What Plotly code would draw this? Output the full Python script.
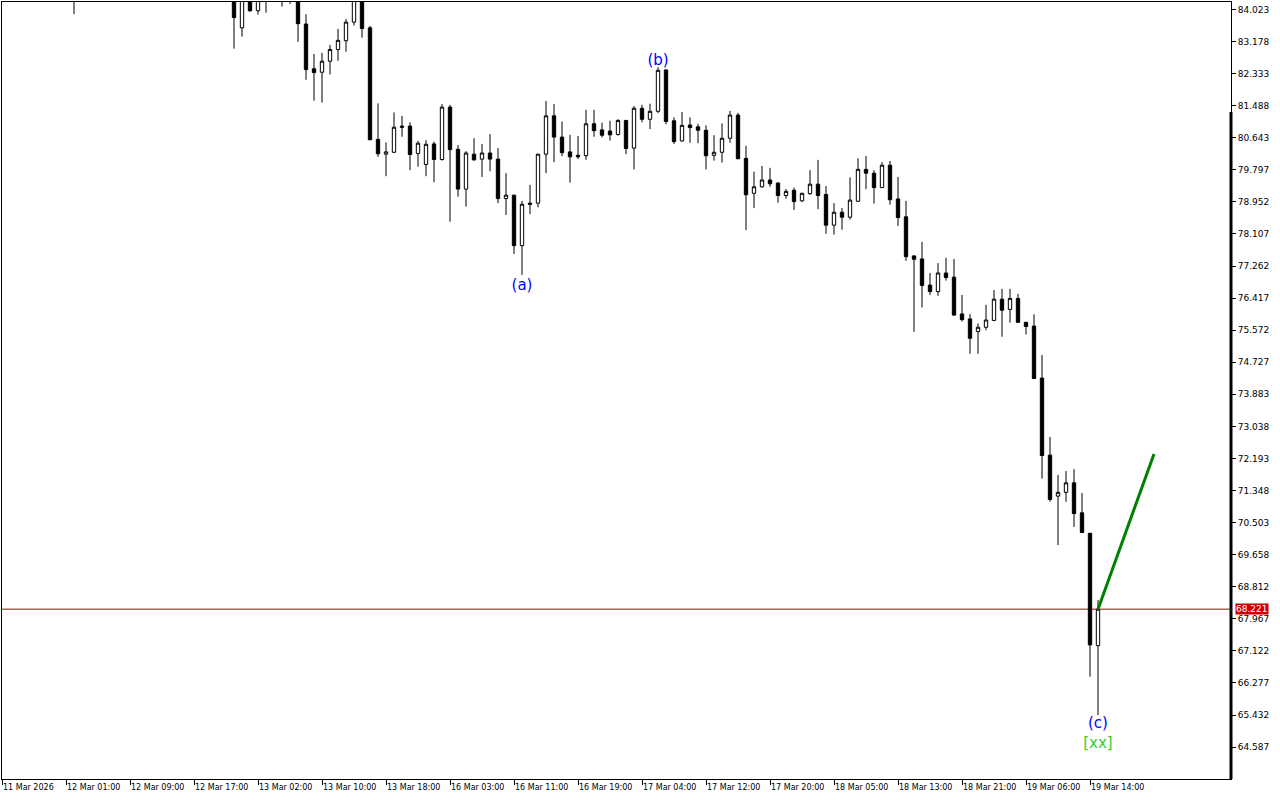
import plotly.graph_objects as go

# ---- data (hourly bars, index = bar position on the time axis) ----
bar_index = [9, 29, 30, 31, 32, 33, 35, 36, 37, 38, 39, 40, 41, 42, 43, 44, 45, 46, 47, 48,
             49, 50, 51, 52, 53, 54, 55, 56, 57, 58, 59, 60, 61, 62, 63, 64, 65, 66, 67, 68,
             69, 70, 71, 72, 73, 74, 75, 76, 77, 78, 79, 80, 81, 82, 83, 84, 85, 86, 87, 88,
             89, 90, 91, 92, 93, 94, 95, 96, 97, 98, 99, 100, 101, 102, 103, 104, 105, 106, 107, 108,
             109, 110, 111, 112, 113, 114, 115, 116, 117, 118, 119, 120, 121, 122, 123, 124, 125, 126, 127, 128,
             129, 130, 131, 132, 133, 134, 135, 136, 137]

opens = [84.50, 84.40, 83.54, 84.30, 83.99, 84.35, 84.50, 84.60, 84.45, 83.64, 82.46, 82.37, 82.66, 82.97, 83.20, 83.69, 84.35, 83.54, 80.60, 80.21,
         80.26, 80.95, 80.95, 80.23, 79.94, 80.48, 80.07, 81.45, 80.34, 79.29, 80.21, 80.08, 80.24, 80.08, 79.04, 79.13, 77.80, 78.92, 78.92, 80.21,
         81.22, 80.66, 80.27, 80.18, 80.17, 81.01, 80.85, 80.82, 80.73, 81.10, 80.37, 81.42, 81.13, 81.34, 82.43, 81.09, 80.56, 80.98, 80.93, 80.84,
         80.18, 80.26, 80.63, 81.24, 80.10, 79.18, 79.35, 79.53, 79.45, 79.12, 79.26, 78.98, 79.17, 79.42, 79.15, 78.34, 78.68, 78.55, 78.97, 79.81,
         79.71, 79.33, 79.92, 79.03, 78.56, 77.53, 77.45, 76.76, 76.59, 77.08, 76.97, 76.00, 75.87, 75.54, 75.65, 75.83, 76.39, 76.12, 76.41, 75.78,
         75.68, 74.31, 72.28, 71.20, 71.30, 71.55, 70.76, 70.22, 67.26]

highs = [84.70, 84.55, 84.45, 84.40, 84.40, 84.60, 84.70, 84.80, 84.60, 83.90, 82.85, 82.88, 83.09, 83.51, 83.77, 84.45, 84.45, 83.59, 81.55, 80.52,
         81.31, 81.22, 81.05, 80.56, 80.58, 80.54, 81.53, 81.51, 80.45, 80.29, 80.63, 80.48, 80.74, 80.37, 79.71, 79.14, 78.98, 79.40, 80.22, 81.61,
         81.53, 81.07, 80.72, 80.69, 81.38, 81.38, 81.04, 81.09, 81.13, 81.11, 81.48, 81.51, 81.54, 82.50, 82.44, 81.18, 81.32, 81.18, 81.01, 80.97,
         80.71, 81.02, 81.35, 81.30, 80.43, 79.75, 79.90, 79.85, 79.47, 79.29, 79.33, 79.19, 79.79, 80.06, 79.37, 78.92, 78.79, 79.60, 80.10, 80.16,
         79.79, 80.00, 80.03, 79.61, 78.98, 77.54, 77.90, 77.08, 77.34, 77.48, 77.45, 76.50, 76.00, 75.75, 76.24, 76.63, 76.66, 76.66, 76.53, 75.79,
         75.99, 74.92, 72.76, 71.76, 71.86, 71.91, 71.28, 70.23, 68.46]

lows = [83.90, 82.99, 83.31, 83.96, 83.89, 83.94, 84.10, 84.17, 83.17, 82.17, 81.62, 81.57, 82.31, 82.67, 82.91, 83.60, 83.28, 80.58, 80.14, 79.63,
        80.24, 80.67, 79.79, 79.88, 79.63, 79.47, 80.04, 78.43, 79.09, 78.83, 80.04, 79.61, 79.76, 78.92, 78.61, 77.58, 77.03, 78.63, 78.81, 79.71,
        80.00, 80.16, 79.46, 80.08, 80.06, 80.67, 80.65, 80.57, 80.70, 80.21, 79.81, 81.05, 80.87, 81.29, 81.00, 80.48, 80.54, 80.51, 80.50, 79.81,
        80.04, 79.99, 80.51, 80.08, 78.21, 78.79, 79.33, 79.35, 78.93, 79.04, 78.74, 78.95, 79.14, 78.76, 78.11, 78.09, 78.22, 78.49, 78.96, 79.29,
        78.91, 79.32, 78.88, 78.32, 77.40, 75.53, 76.17, 76.50, 76.48, 76.88, 75.95, 75.80, 74.95, 74.95, 75.57, 75.81, 75.40, 75.77, 75.77, 75.46,
        74.29, 71.66, 71.05, 69.91, 71.05, 70.39, 70.23, 66.44, 65.43]

closes = [84.60, 83.81, 84.35, 83.99, 84.30, 84.45, 84.40, 84.50, 83.65, 82.44, 82.36, 82.66, 82.97, 83.21, 83.69, 84.35, 83.52, 80.59, 80.22, 80.27,
          80.92, 80.92, 80.20, 80.50, 80.47, 80.07, 81.45, 80.33, 79.29, 80.24, 80.06, 80.24, 80.08, 79.04, 79.13, 77.80, 78.89, 78.89, 80.21, 81.22,
          80.66, 80.25, 80.14, 80.14, 81.01, 80.83, 80.71, 80.72, 81.10, 80.36, 81.42, 81.13, 81.34, 82.42, 81.07, 80.54, 80.97, 80.91, 80.84, 80.17,
          80.26, 80.63, 81.24, 80.09, 79.14, 79.35, 79.53, 79.43, 79.12, 79.23, 78.96, 79.18, 79.42, 79.12, 78.34, 78.68, 78.55, 79.00, 79.81, 79.71,
          79.33, 79.92, 79.01, 78.54, 77.51, 77.44, 76.75, 76.59, 77.08, 76.96, 75.97, 75.85, 75.36, 75.65, 75.84, 76.39, 76.10, 76.41, 75.78, 75.67,
          74.30, 72.27, 71.11, 71.30, 71.55, 70.74, 70.24, 67.28, 68.221]

current_price = 68.221

# projected move (green line)
projection_x = [137, 144]
projection_y = [68.221, 72.31]

# wave labels
wave_labels = ["(a)", "(b)", "(c)"]
wave_x = [65, 82, 137]
wave_y = [76.74, 82.66, 65.19]
degree_label = "[xx]"
degree_x = [137]
degree_y = [64.65]

# axis ticks
time_tick_index = [0, 8, 16, 24, 32, 40, 48, 56, 64, 72, 80, 88, 96, 104, 112, 120, 128, 136]
time_tick_labels = ["11 Mar 2026", "12 Mar 01:00", "12 Mar 09:00", "12 Mar 17:00", "13 Mar 02:00",
                    "13 Mar 10:00", "13 Mar 18:00", "16 Mar 03:00", "16 Mar 11:00", "16 Mar 19:00",
                    "17 Mar 04:00", "17 Mar 12:00", "17 Mar 20:00", "18 Mar 05:00", "18 Mar 13:00",
                    "18 Mar 21:00", "19 Mar 06:00", "19 Mar 14:00"]
price_ticks = [84.023, 83.178, 82.333, 81.488, 80.643, 79.797, 78.952, 78.107, 77.262, 76.417,
               75.572, 74.727, 73.883, 73.038, 72.193, 71.348, 70.503, 69.658, 68.812, 67.967,
               67.122, 66.277, 65.432, 64.587]

FONT = "DejaVu Sans"

fig = go.Figure()

fig.add_trace(go.Candlestick(
    x=bar_index, open=opens, high=highs, low=lows, close=closes,
    increasing=dict(line=dict(color="black", width=1), fillcolor="white"),
    decreasing=dict(line=dict(color="black", width=1), fillcolor="black"),
    whiskerwidth=0, showlegend=False, hoverinfo="skip",
))

fig.add_trace(go.Scatter(
    x=projection_x, y=projection_y, mode="lines",
    line=dict(color="#008000", width=3), showlegend=False, hoverinfo="skip",
))

fig.add_trace(go.Scatter(
    x=wave_x, y=wave_y, mode="text", text=wave_labels,
    textfont=dict(family=FONT, size=15, color="#0000FF"),
    textposition="middle center", showlegend=False, hoverinfo="skip",
))
fig.add_trace(go.Scatter(
    x=degree_x, y=degree_y, mode="text", text=[degree_label],
    textfont=dict(family=FONT, size=15, color="#32CD32"),
    textposition="middle center", showlegend=False, hoverinfo="skip",
))

# current price line
fig.add_shape(type="line", xref="paper", x0=0, x1=1, yref="y", y0=current_price, y1=current_price,
              line=dict(color="#B00000", width=1), layer="below")
# thick right border segment
fig.add_shape(type="line", xref="paper", x0=1, x1=1, yref="paper", y0=0, y1=0.8584,
              line=dict(color="black", width=3))

fig.add_annotation(xref="paper", x=1, yref="y", y=current_price, text=f"{current_price:.3f}",
                   xanchor="left", yanchor="middle", xshift=4, showarrow=False,
                   bgcolor="#CC0000", borderpad=0,
                   font=dict(family=FONT, size=9, color="white"))

fig.update_layout(
    width=1280, height=800,
    margin=dict(l=2, r=49, t=2, b=21),
    paper_bgcolor="white", plot_bgcolor="white",
    showlegend=False,
    font=dict(family=FONT, size=9, color="black"),
    xaxis=dict(
        range=[0, 153.625], rangeslider=dict(visible=False),
        showgrid=False, zeroline=False,
        showline=True, linecolor="black", linewidth=1, mirror=True,
        tickmode="array", tickvals=time_tick_index, ticktext=time_tick_labels,
        ticks="outside", ticklen=5, tickcolor="black", tickwidth=1,
        ticklabelposition="outside right", tickangle=0,
        tickfont=dict(family=FONT, size=8, color="black"),
        automargin=False,
    ),
    yaxis=dict(
        range=[63.746, 84.220], side="right",
        showgrid=False, zeroline=False,
        showline=True, linecolor="black", linewidth=1, mirror=True,
        tickmode="array", tickvals=price_ticks, ticktext=[f"{v:.3f}" for v in price_ticks],
        ticks="outside", ticklen=4, tickcolor="black", tickwidth=1,
        tickfont=dict(family=FONT, size=9, color="black"),
        automargin=False,
    ),
    boxgap=0.4,
)

fig.write_html("out.html", config={"displayModeBar": False},
               post_script="document.body.style.margin='0';document.body.style.overflow='hidden';")
